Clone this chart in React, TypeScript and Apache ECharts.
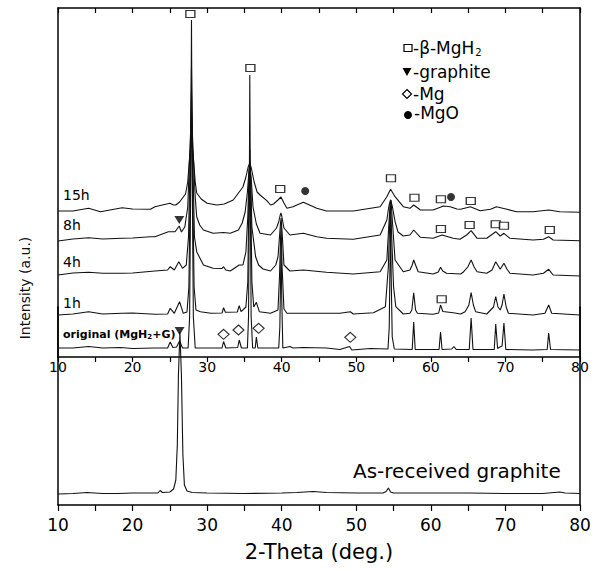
import React, { useEffect, useRef } from "react";
import * as echarts from "echarts";

const FONT = "DejaVu Sans";
const xTickValues = [10, 20, 30, 40, 50, 60, 70, 80];

// [2-theta (deg), intensity] – top panel, stacked patterns (intensity in plot units)
const curveOriginal: number[][] = [
  [10, 9], [12, 9], [14.1, 10.5], [16, 9], [18.4, 9.5], [20, 8.5], [23, 9], [24.7, 9], [25.05, 15], [25.4, 9.5],
  [25.9, 10], [26.3, 16], [26.7, 9], [27.45, 9], [27.65, 40], [27.8, 180], [27.9, 337], [28.0, 180], [28.15, 40],
  [28.4, 9], [32.0, 9], [32.2, 15.5], [32.5, 9], [34.1, 9.5], [34.3, 17], [34.6, 9], [35.4, 9], [35.55, 40],
  [35.65, 150], [35.72, 282], [35.8, 150], [35.9, 40], [36.1, 9], [36.45, 9], [36.6, 20], [36.8, 9], [39.6, 9],
  [39.75, 30], [39.85, 80], [39.92, 117], [40.0, 60], [40.15, 9], [41.1, 10.5], [41.5, 9], [42.9, 9.5], [46, 9],
  [47.8, 7.5], [49.1, 10.5], [49.4, 7], [51.9, 8.5], [54.25, 8], [54.42, 30], [54.53, 100], [54.6, 142],
  [54.68, 80], [54.82, 20], [55.1, 8], [57.5, 7.5], [57.7, 35], [57.9, 7.5], [61.1, 7.5], [61.3, 25], [61.5, 7.5],
  [62.8, 8], [63.1, 10.5], [63.4, 7.5], [65.15, 7.5], [65.4, 39], [65.65, 7.5], [68.5, 7.5], [68.7, 33],
  [68.95, 8.5], [69.25, 10], [69.55, 11], [69.8, 34], [70.05, 7.5], [73.7, 7], [75.6, 7.5], [75.8, 24],
  [76.05, 7.5], [80, 7],
];

const curve1h: number[][] = [
  [10, 42], [12, 43], [14.1, 45.3], [16, 43], [18.6, 43.7], [20, 44], [23, 42.7], [24.7, 43], [25.05, 48.7],
  [25.6, 43.7], [26.3, 55.3], [26.8, 43.7], [27.3, 45], [27.55, 70], [27.75, 180], [27.9, 290], [28.05, 180],
  [28.25, 70], [28.5, 47], [29.1, 45.3], [30.5, 43.7], [32.0, 44], [32.2, 49.3], [32.45, 44.7], [34.05, 45],
  [34.3, 51.3], [34.55, 45.3], [35.2, 50], [35.45, 75], [35.6, 160], [35.72, 207], [35.85, 160], [36.0, 75],
  [36.25, 50], [36.6, 54.7], [37, 45.3], [38.5, 43.7], [39.5, 47], [39.7, 80], [39.85, 120], [39.92, 132],
  [40.05, 90], [40.3, 48], [40.7, 43.7], [42.9, 43.7], [46, 43.7], [47.8, 43.7], [49.2, 45.3], [49.6, 43],
  [52.3, 44.3], [53.9, 50.3], [54.3, 90], [54.5, 140], [54.6, 152], [54.75, 120], [55.0, 70], [55.3, 50.3],
  [56.3, 43], [57.2, 43.7], [57.45, 47], [57.7, 64.3], [57.95, 47], [58.2, 43.7], [60.3, 42.7], [61.05, 44],
  [61.3, 52], [61.6, 45.5], [63, 44.3], [64, 43], [64.6, 45.3], [65.1, 52], [65.4, 64.3], [65.7, 52], [66, 45.3],
  [67.5, 43], [68.4, 50], [68.7, 60.3], [69.0, 50], [69.3, 47], [69.55, 52], [69.8, 63], [70.1, 50], [70.4, 43.7],
  [73.7, 42], [75.3, 43.7], [75.8, 52], [76.2, 43.7], [80, 42],
];

const curve4h: number[][] = [
  [10, 82], [12, 84], [14.1, 84.7], [16, 83.7], [18.6, 83.7], [20, 84], [23, 86], [24.7, 87], [25.05, 90.3],
  [25.6, 87], [26.2, 95.3], [26.7, 88.7], [27.2, 92], [27.5, 120], [27.7, 190], [27.9, 267], [28.1, 190],
  [28.3, 120], [28.6, 105.3], [29.5, 92], [30.8, 88.7], [32.0, 88.5], [32.2, 90.3], [32.5, 87], [33.1, 86],
  [34.3, 92], [34.8, 92], [35.2, 105], [35.45, 140], [35.6, 180], [35.72, 197], [35.85, 175], [36.0, 130],
  [36.5, 100.3], [36.9, 92], [37.5, 88], [38.5, 86], [39.2, 92], [39.5, 100], [39.7, 120], [39.85, 135],
  [39.92, 139], [40.05, 125], [40.3, 92], [41.1, 86], [42.9, 87], [46, 84.7], [49.6, 83], [53.2, 85.3],
  [54.1, 97], [54.35, 130], [54.55, 155], [54.65, 157], [54.85, 135], [55.2, 97], [56.3, 85.3], [57.2, 87],
  [57.5, 92], [57.7, 97], [57.95, 92], [58.3, 85.3], [60.3, 83], [61.0, 85], [61.3, 89.7], [61.6, 86],
  [62.1, 83.7], [64, 83], [64.4, 85.3], [64.95, 90], [65.4, 97], [65.8, 90], [66.2, 85.3], [67.5, 83.7],
  [68.2, 87], [68.7, 95.3], [69.3, 87.7], [69.8, 93.7], [70.2, 88], [70.6, 83.7], [73.7, 82], [75.1, 83.7],
  [75.8, 87.7], [76.4, 82], [80, 81],
];

const curve8h: number[][] = [
  [10, 116], [12, 118], [14.1, 119.3], [16, 118], [18.6, 118.7], [20, 119], [22.4, 120.3], [23, 120.3],
  [24.8, 125.3], [25.7, 125.3], [26.25, 131], [26.55, 125], [27.0, 130], [27.4, 150], [27.65, 200], [27.9, 247],
  [28.15, 200], [28.4, 160], [28.6, 140.3], [29.0, 132], [29.5, 127], [30.8, 123.7], [32.2, 124.5], [33.1, 123.7],
  [34.2, 127], [34.7, 134], [35.1, 145], [35.4, 165], [35.6, 185], [35.72, 192], [35.9, 180], [36.15, 150],
  [36.6, 133], [37.1, 123.7], [38.5, 122], [39.3, 129], [39.6, 135], [39.8, 142], [39.9, 144], [40.0, 141],
  [40.3, 129], [41.1, 122], [42.9, 123.7], [44.7, 120.3], [46, 118.7], [49.6, 117.7], [53.2, 122], [54.1, 137],
  [54.35, 150], [54.6, 157], [54.85, 150], [55.2, 135.3], [55.6, 125], [56.3, 121], [57.2, 122], [57.7, 127],
  [58.6, 119.7], [60.3, 118.7], [61.5, 122], [63, 118.7], [63.9, 117.7], [64.8, 122], [65.4, 126.3],
  [66.2, 118.7], [67.5, 118.7], [68.7, 125.3], [69.3, 121], [69.8, 123.7], [70.6, 118.7], [73.7, 117],
  [75.1, 117.7], [75.8, 120.3], [76.4, 117], [80, 116.3],
];

const curve15h: number[][] = [
  [10, 146], [12, 146], [14.1, 148.7], [15.7, 145.3], [18.6, 149.3], [20, 148], [22.4, 147.7], [23, 150.3],
  [25.0, 153.7], [25.5, 152], [25.8, 152], [26.3, 155], [26.7, 159], [27.1, 163], [27.4, 175], [27.65, 200],
  [27.9, 217], [28.15, 200], [28.4, 175], [28.6, 164], [29.2, 158], [30, 153.7], [31.3, 152], [32.3, 153],
  [33.5, 157], [34.2, 164], [34.8, 170], [35.2, 180], [35.5, 190], [35.72, 194], [35.95, 188], [36.3, 175],
  [36.7, 165], [37.1, 162], [38.0, 156.3], [38.5, 152], [38.9, 153], [39.5, 157], [39.9, 160], [40.3, 154],
  [40.7, 148.7], [41.5, 150.3], [42.9, 154.7], [44.7, 148.7], [46, 146], [49.6, 146], [53.2, 150.3],
  [54.1, 160.3], [54.6, 167.7], [55.2, 160.3], [56.3, 150.3], [57.2, 148.7], [57.7, 152], [58.6, 147],
  [60.3, 147], [61.7, 151], [62.6, 150.3], [63.5, 148], [64, 147.7], [65.3, 150.3], [66.6, 146.3], [68, 147.7],
  [68.8, 150.3], [70.2, 147.7], [71.5, 145.3], [73.7, 145.3], [75.8, 147], [77.3, 145.3], [80, 144.7],
];

// bottom panel: as-received graphite
const curveGraphite: number[][] = [
  [10, 11], [12, 11.5], [13.9, 12.5], [16, 11.5], [18, 11.5], [20, 12], [22, 12], [23.4, 12], [23.7, 14.5],
  [24.0, 12.5], [25.0, 13], [25.5, 16], [25.8, 25], [26.0, 60], [26.15, 130], [26.35, 173], [26.55, 130],
  [26.75, 50], [26.95, 20], [27.3, 14], [28, 12.5], [30, 12], [35, 11.5], [40, 12], [42, 12.5], [44.2, 13.5],
  [46, 12.5], [50, 12], [53.6, 12], [54.0, 13.5], [54.3, 17], [54.6, 13], [55, 12], [60, 12], [65, 12],
  [70, 11.5], [75, 11.5], [77.3, 13], [78, 12], [80, 11.5],
];

// phase markers [2-theta, intensity]
const mgh2Marks: number[][] = [
  [27.75, 343], [35.8, 289], [39.8, 168], [54.65, 178.7], [57.8, 159.3], [61.35, 157.7], [65.35, 156],
  [61.35, 128], [65.2, 132], [68.7, 132.7], [69.8, 131.3], [75.95, 127], [61.45, 57.7],
];
const graphiteMarks: number[][] = [[26.27, 137], [26.3, 26]];
const mgMarks: number[][] = [[32.2, 22.7], [34.2, 27], [36.9, 28.7], [49.2, 19.7]];
const mgoMarks: number[][] = [[43.15, 166], [62.7, 160]];

const curveLabels = ["15h", "8h", "4h", "1h"];
const curveLabelY = [195, 225, 262, 303];

export default function App() {
  const ref = useRef<HTMLDivElement>(null);
  useEffect(() => {
    const chart = echarts.init(ref.current!, null, { renderer: "svg" });
    const fmt = (v: number) => (v % 10 === 0 ? String(v) : "");
    const axisLine = { show: true, onZero: false, lineStyle: { color: "#000", width: 1.5 } };
    const lineSeries = (data: number[][], xi: number, yi: number) => ({
      type: "line",
      data,
      xAxisIndex: xi,
      yAxisIndex: yi,
      symbol: "none",
      showSymbol: false,
      lineStyle: { color: "#111", width: 1.1 },
      silent: true,
    });
    const hollow = { color: "#fff", borderColor: "#000", borderWidth: 1.2 };
    const option: any = {
      animation: false,
      grid: [
        { left: 58, right: 21, top: 8, height: 349 },
        { left: 58, right: 21, top: 307, height: 198 },
      ],
      xAxis: [
        {
          gridIndex: 0, type: "value", min: 10, max: 80, interval: 5, position: "bottom",
          axisLine, axisTick: { show: true, length: 5, lineStyle: { color: "#000", width: 1.2 } },
          axisLabel: { formatter: fmt, fontSize: 14, color: "#000", margin: 3, fontFamily: FONT },
          splitLine: { show: false },
        },
        {
          gridIndex: 0, type: "value", min: 10, max: 80, interval: 5, position: "top",
          axisLine, axisTick: { show: true, inside: true, length: 5, lineStyle: { color: "#000", width: 1.2 } },
          axisLabel: { show: false }, splitLine: { show: false },
        },
        {
          gridIndex: 1, type: "value", min: 10, max: 80, interval: 5, position: "bottom",
          axisLine, axisTick: { show: true, length: 6, lineStyle: { color: "#000", width: 1.2 } },
          axisLabel: { formatter: fmt, fontSize: 17, color: "#000", margin: 11, fontFamily: FONT },
          splitLine: { show: false },
          name: "2-Theta (deg.)", nameLocation: "middle", nameGap: 36,
          nameTextStyle: { fontSize: 21, color: "#000", fontFamily: FONT },
        },
      ],
      yAxis: [
        { gridIndex: 0, type: "value", min: 0, max: 349, position: "left", axisLine, axisTick: { show: false }, axisLabel: { show: false }, splitLine: { show: false } },
        { gridIndex: 0, type: "value", min: 0, max: 349, position: "right", axisLine, axisTick: { show: false }, axisLabel: { show: false }, splitLine: { show: false } },
        { gridIndex: 1, type: "value", min: 0, max: 198, position: "left", axisLine, axisTick: { show: false }, axisLabel: { show: false }, splitLine: { show: false } },
        { gridIndex: 1, type: "value", min: 0, max: 198, position: "right", axisLine, axisTick: { show: false }, axisLabel: { show: false }, splitLine: { show: false } },
      ],
      series: [
        lineSeries(curveGraphite, 2, 2),
        lineSeries(curveOriginal, 0, 0),
        lineSeries(curve1h, 0, 0),
        lineSeries(curve4h, 0, 0),
        lineSeries(curve8h, 0, 0),
        lineSeries(curve15h, 0, 0),
        { type: "scatter", data: mgh2Marks, xAxisIndex: 0, yAxisIndex: 0, symbol: "rect", symbolSize: [9, 7], itemStyle: hollow, z: 5, silent: true },
        { type: "scatter", data: graphiteMarks, xAxisIndex: 0, yAxisIndex: 0, symbol: "triangle", symbolRotate: 180, symbolSize: [10, 8], itemStyle: { color: "#000" }, z: 5, silent: true },
        { type: "scatter", data: mgMarks, xAxisIndex: 0, yAxisIndex: 0, symbol: "diamond", symbolSize: [11, 10], itemStyle: hollow, z: 5, silent: true },
        { type: "scatter", data: mgoMarks, xAxisIndex: 0, yAxisIndex: 0, symbol: "circle", symbolSize: 8, itemStyle: { color: "#000" }, z: 5, silent: true },
      ],
      graphic: [
        // y axis title
        {
          type: "text", x: 25, y: 288, rotation: Math.PI / 2,
          style: { text: "Intensity (a.u.)", font: `14px "${FONT}"`, fill: "#111", textAlign: "center", textVerticalAlign: "middle" },
        },
        ...curveLabels.map((t, i) => ({
          type: "text", x: 63, y: curveLabelY[i],
          style: { text: t, font: `14px "${FONT}"`, fill: "#000", textAlign: "left", textVerticalAlign: "middle" },
        })),
        {
          type: "text", x: 63, y: 334,
          style: {
            text: "{b|original (MgH}{s|2}{b|+G)}", textAlign: "left", textVerticalAlign: "middle", fill: "#000",
            rich: {
              b: { fontFamily: FONT, fontWeight: "bold", fontSize: 11, fill: "#000" },
              s: { fontFamily: FONT, fontWeight: "bold", fontSize: 7, fill: "#000", padding: [6, 0, 0, 0] },
            },
          },
        },
        {
          type: "text", x: 353, y: 471,
          style: { text: "As-received graphite", font: `20px "${FONT}"`, fill: "#000", textAlign: "left", textVerticalAlign: "middle" },
        },
        // legend
        { type: "rect", shape: { x: 404, y: 44.5, width: 8, height: 7 }, style: { fill: "#fff", stroke: "#000", lineWidth: 1.2 } },
        { type: "polygon", shape: { points: [[402.5, 68], [411.5, 68], [407, 76]] }, style: { fill: "#000" } },
        { type: "polygon", shape: { points: [[407, 89.5], [411.5, 94], [407, 98.5], [402.5, 94]] }, style: { fill: "#fff", stroke: "#000", lineWidth: 1.2 } },
        { type: "circle", shape: { cx: 408, cy: 115, r: 4 }, style: { fill: "#000" } },
        {
          type: "text", x: 413, y: 48,
          style: {
            text: "{a|-β-MgH}{s|2}", textAlign: "left", textVerticalAlign: "middle",
            rich: {
              a: { fontFamily: FONT, fontSize: 17, fill: "#000" },
              s: { fontFamily: FONT, fontSize: 10, fill: "#000", padding: [9, 0, 0, 1] },
            },
          },
        },
        { type: "text", x: 413, y: 72, style: { text: "-graphite", font: `17px "${FONT}"`, fill: "#000", textAlign: "left", textVerticalAlign: "middle" } },
        { type: "text", x: 413, y: 94, style: { text: "-Mg", font: `17px "${FONT}"`, fill: "#000", textAlign: "left", textVerticalAlign: "middle" } },
        { type: "text", x: 414, y: 113, style: { text: "-MgO", font: `17px "${FONT}"`, fill: "#000", textAlign: "left", textVerticalAlign: "middle" } },
      ],
    };
    chart.setOption(option);
    return () => chart.dispose();
  }, []);
  return <div ref={ref} style={{ position: "absolute", left: 0, top: 0, width: 601, height: 571, background: "#fff" }} />;
}
